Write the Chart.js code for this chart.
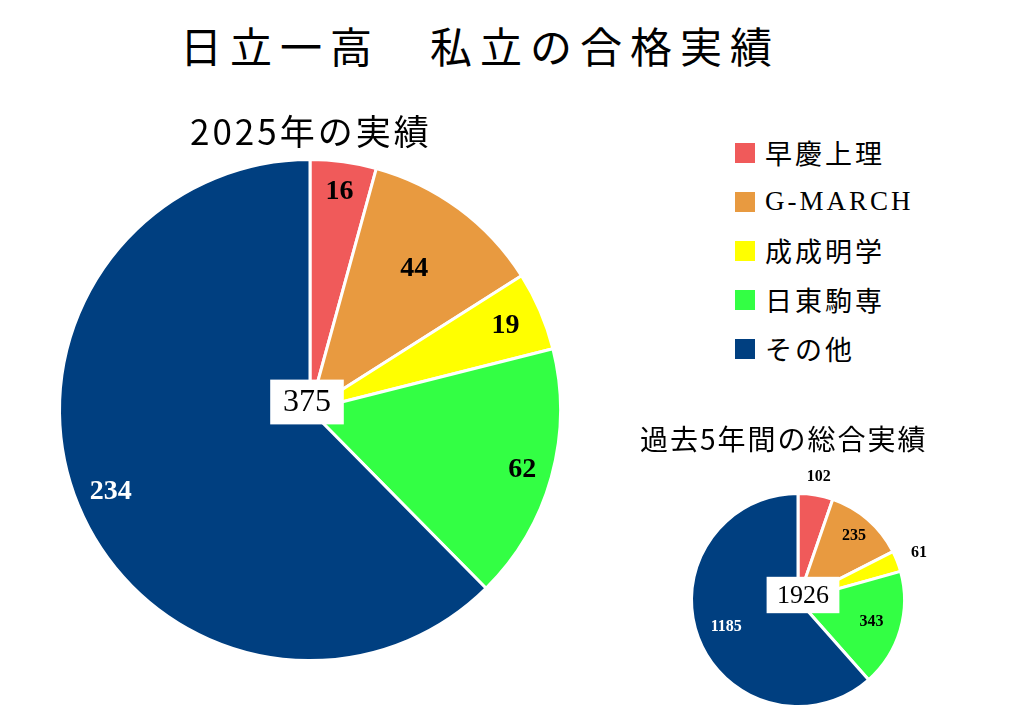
<!DOCTYPE html>
<html><head><meta charset="utf-8">
<script src="https://cdn.jsdelivr.net/npm/chart.js@4/dist/chart.umd.min.js"></script>
<style>
body{margin:0;width:1024px;height:721px;background:#fff;position:relative;overflow:hidden;font-family:"Noto Sans CJK JP",serif}
.t{position:absolute;white-space:nowrap;color:#000;z-index:2}
.box{position:absolute}
#legend{position:absolute;left:735px;top:128px;z-index:2}
.li{display:flex;align-items:center;height:49px;font-size:27px;font-family:"Liberation Serif","Noto Sans CJK JP",serif;letter-spacing:3px}
.sw{width:20px;height:20px;margin-right:10px}
</style></head><body>
<div class="t" style="left:0;width:960px;text-align:center;top:14px;font-size:42px;letter-spacing:8px">日立一高　私立の合格実績</div>
<div class="t" style="left:190px;top:104px;font-size:35px;letter-spacing:3px">2025年の実績</div>
<div class="t" style="left:640px;top:418px;font-size:28px;letter-spacing:2px">過去5年間の総合実績</div>
<div id="legend"></div>
<div class="box" style="left:50px;top:150px;width:520px;height:520px"><canvas id="c1"></canvas></div>
<div class="box" style="left:648px;top:450px;width:300px;height:300px"><canvas id="c2"></canvas></div>
<script>
const categories=["早慶上理","G-MARCH","成成明学","日東駒専","その他"];
const colors=["#f05a5a","#e89a40","#ffff00","#33ff44","#003f80"];
const values2025=[16,44,19,62,234];
const values5yr=[102,235,61,343,1185];
const total2025="375", total5yr="1926";

const lg=document.getElementById('legend');
categories.forEach((c,i)=>{lg.innerHTML+=`<div class="li"><div class="sw" style="background:${colors[i]}"></div>${c}</div>`});

function lblPlugin(fs,factors,total,tfs,off){return{id:'lbl',afterDraw(ch){
 const ctx=ch.ctx;const meta=ch.getDatasetMeta(0);
 ctx.save();ctx.textAlign='center';ctx.textBaseline='middle';
 meta.data.forEach((a,i)=>{const mid=(a.startAngle+a.endAngle)/2;const r=a.outerRadius*factors[i];
  const x=a.x+Math.cos(mid)*r,y=a.y+Math.sin(mid)*r;
  ctx.font='bold '+fs+'px "Liberation Serif",serif';
  ctx.fillStyle=i==4?'#fff':'#000';ctx.fillText(ch.data.datasets[0].data[i],x,y);});
 const a=meta.data[0];ctx.font=tfs+'px "Liberation Serif",serif';
 const w=ctx.measureText(total).width+tfs*0.8,h=tfs*1.4;const cx=a.x+off[0],cy=a.y+off[1];
 ctx.fillStyle='#fff';ctx.fillRect(cx-w/2,cy-h/2,w,h);ctx.fillStyle='#000';ctx.fillText(total,cx,cy+1);
 ctx.restore();}}}

function make(id,data,pad,plugin){new Chart(document.getElementById(id),{type:'pie',
 data:{labels:categories,datasets:[{data,backgroundColor:colors,borderColor:'#fff',borderWidth:3}]},
 options:{responsive:true,maintainAspectRatio:true,animation:false,layout:{padding:pad},
  plugins:{legend:{display:false},tooltip:{enabled:false}}},plugins:[plugin]});}
make('c1',values2025,8,lblPlugin(28,[0.88,0.7,0.85,0.88,0.86],total2025,32,[-3,-8]));
make('c2',values5yr,42,lblPlugin(16,[1.17,0.8,1.22,0.72,0.72],total5yr,26,[5,-5]));
</script></body></html>
